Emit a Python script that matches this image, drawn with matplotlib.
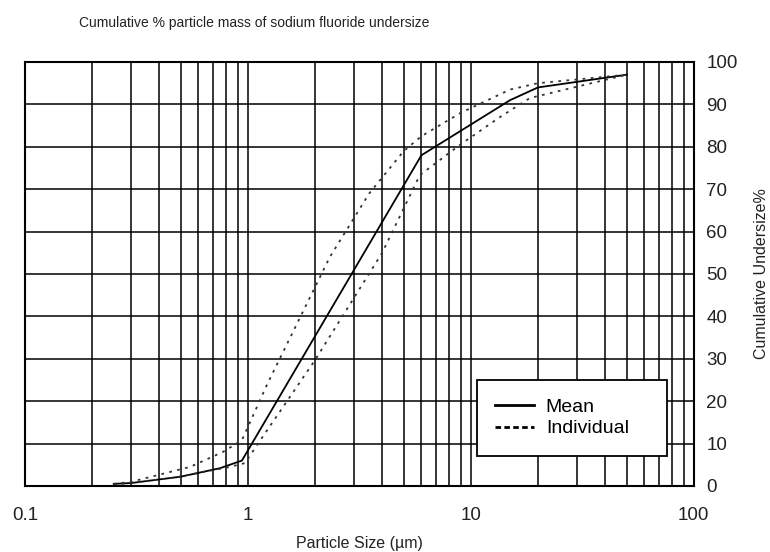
import numpy as np
import matplotlib
matplotlib.use('Agg')
import matplotlib.pyplot as plt
from matplotlib.ticker import LogLocator, FixedLocator, NullFormatter

plt.rcParams['font.family'] = ['Liberation Sans', 'DejaVu Sans']

# particle size (um) vs cumulative undersize %
mean_x = [0.25, 0.3, 0.5, 0.75, 0.94, 6, 15, 20, 50]
mean_y = [0.5, 0.7, 2.2, 4.2, 6.0, 78, 91, 94, 97]

ind_hi_x = [0.25, 0.3, 0.55, 0.77, 0.94, 1.22, 2.33, 3.5, 5.0, 6.0, 9.0, 15, 20, 50]
ind_hi_y = [0.5, 1.0, 4.5, 8.0, 10.8, 24, 54, 69, 79, 82.5, 88, 93.5, 95, 97]

ind_lo_x = [0.25, 0.46, 0.83, 0.97, 1.1, 2.0, 4.0, 5.9, 8.9, 13.5, 18.4, 50]
ind_lo_y = [0.3, 1.9, 4.5, 5.4, 9.7, 29.7, 55, 73.3, 80.4, 87, 91.5, 97]

xticks = [0.1, 1, 10, 100]
xtick_labels = ['0.1', '1', '10', '100']
yticks = list(range(0, 101, 10))

fig = plt.figure(figsize=(7.7, 5.52), dpi=100)
ax = fig.add_axes([0.0325, 0.1196, 0.8685, 0.7681])

ax.set_xscale('log')
ax.set_xlim(0.1, 100)
ax.set_ylim(0, 100)

# grid
ax.xaxis.set_major_locator(FixedLocator(xticks))
ax.xaxis.set_minor_locator(LogLocator(base=10, subs=np.arange(2, 10)))
ax.xaxis.set_minor_formatter(NullFormatter())
ax.set_xticklabels(xtick_labels)
ax.set_yticks(yticks)
ax.grid(True, which='both', axis='x', color='black', lw=1.1)
ax.grid(True, which='major', axis='y', color='black', lw=1.1)
ax.set_axisbelow(True)

ax.plot(mean_x, mean_y, color='black', lw=1.3, label='Mean')
ax.plot(ind_hi_x, ind_hi_y, color='#333333', lw=1.3, ls=(0, (1.5, 3)), label='Individual')
ax.plot(ind_lo_x, ind_lo_y, color='#333333', lw=1.3, ls=(0, (1.5, 3)))

ax.yaxis.tick_right()
ax.yaxis.set_label_position('right')
ax.tick_params(axis='both', which='both', length=0, labelsize=13.5, colors='#222222')
ax.tick_params(axis='y', pad=9)
ax.tick_params(axis='x', pad=15)
for lab in ax.get_yticklabels():
    lab.set_horizontalalignment('left')
for s in ax.spines.values():
    s.set_linewidth(1.5)

ax.set_xlabel('Particle Size (µm)', fontsize=11.5, labelpad=9, color='#222222')
ax.set_ylabel('Cumulative Undersize%', fontsize=11.5, labelpad=12, color='#222222')
fig.text(0.33, 0.958, 'Cumulative % particle mass of sodium fluoride undersize',
         ha='center', va='center', fontsize=10, color='#222222')

leg = ax.legend(loc='lower left', bbox_to_anchor=(0.6756, 0.0708, 0.284, 0.172),
                mode='expand', fontsize=14, frameon=True, fancybox=False,
                framealpha=1, edgecolor='black', handlelength=2.0,
                borderpad=0.95, labelspacing=0.2, borderaxespad=0,
                handletextpad=0.6)
leg.get_frame().set_linewidth(1.3)
leg.get_lines()[0].set_linewidth(2)
leg.get_lines()[1].set_linewidth(2)
leg.get_lines()[1].set_linestyle((0, (2, 1.2)))
leg.get_lines()[1].set_color('black')

fig.savefig('out.png', dpi=100)
